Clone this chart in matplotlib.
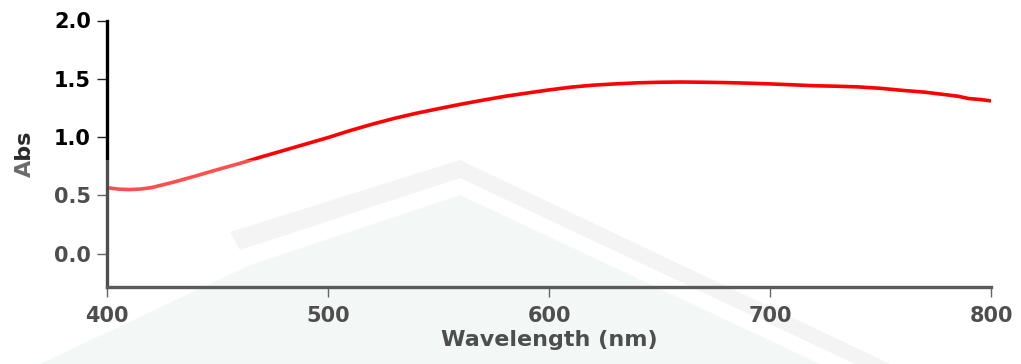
import numpy as np
import matplotlib
matplotlib.use('Agg')
import matplotlib.pyplot as plt
from matplotlib.patches import Rectangle, Polygon

# UV-Vis absorbance spectrum
wavelength = [400, 405, 410, 415, 420, 430, 440, 450, 460, 470, 480, 490,
              500, 510, 520, 530, 540, 550, 560, 570, 580, 590, 600, 610,
              620, 630, 640, 650, 660, 670, 680, 690, 700, 710, 720, 730,
              740, 750, 760, 770, 780, 785, 790, 795, 800]
absorbance = [0.565, 0.553, 0.549, 0.553, 0.565, 0.612, 0.665, 0.720, 0.773,
              0.830, 0.885, 0.940, 0.995, 1.055, 1.110, 1.160, 1.204, 1.243,
              1.281, 1.316, 1.349, 1.377, 1.404, 1.428, 1.445, 1.456, 1.465,
              1.470, 1.472, 1.470, 1.467, 1.462, 1.456, 1.448, 1.440, 1.436,
              1.430, 1.418, 1.400, 1.385, 1.362, 1.350, 1.330, 1.322, 1.310]

x_ticks = [400, 500, 600, 700, 800]
y_ticks = [0.0, 0.5, 1.0, 1.5, 2.0]

W, H = 1021, 364
fig = plt.figure(figsize=(W / 100, H / 100), dpi=100)
ax = fig.add_axes([107 / W, 1 - 287.3 / H, 884 / W, 266.8 / H])
ax.patch.set_visible(False)

ax.plot(wavelength, absorbance, color='#ff0000', lw=2.6, solid_capstyle='butt')

ax.set_xlim(400, 800)
ax.set_ylim(-0.29, 2.0)
ax.set_xticks(x_ticks)
ax.set_yticks(y_ticks)
ax.set_yticklabels(['%.1f' % v for v in y_ticks])

for side in ['top', 'right']:
    ax.spines[side].set_visible(False)
ax.spines['left'].set_linewidth(2.4)
ax.spines['left'].set_color('#000000')
ax.spines['bottom'].set_linewidth(2.4)
ax.spines['bottom'].set_color('#111111')

ax.tick_params(axis='both', direction='out', length=7.5, width=1.0,
               color='#222222', labelsize=15, labelcolor='#000000')
ax.tick_params(axis='y', pad=4)
ax.tick_params(axis='x', pad=6)
for lab in ax.get_xticklabels() + ax.get_yticklabels():
    lab.set_fontweight('bold')

ax.set_xlabel('Wavelength (nm)', fontsize=16, fontweight='bold',
              color='#000000', labelpad=3)
ax.set_ylabel('Abs', fontsize=16, fontweight='bold', color='#2a2a2a',
              labelpad=14)

# faint logo watermark: chevron drawn behind, white haze over the lower part
def px(pts):
    return [(x / W, 1 - y / H) for x, y in pts]

fig.patches.append(Polygon(px([(250, 265), (460, 195), (820, 364), (40, 364)]),
                           closed=True, transform=fig.transFigure,
                           facecolor='#eef6f2', edgecolor='none', zorder=-1))
fig.patches.append(Polygon(px([(230, 232), (460, 160), (890, 364),
                               (855, 364), (460, 178), (240, 250)]),
                           closed=True, transform=fig.transFigure,
                           facecolor='#f0f0f0', edgecolor='none', zorder=-1))
fig.patches.append(Rectangle((0, 0), 1, 1 - 160 / H, transform=fig.transFigure,
                             facecolor='white', edgecolor='none',
                             alpha=0.31, zorder=10))

fig.savefig('out.png', dpi=100)
